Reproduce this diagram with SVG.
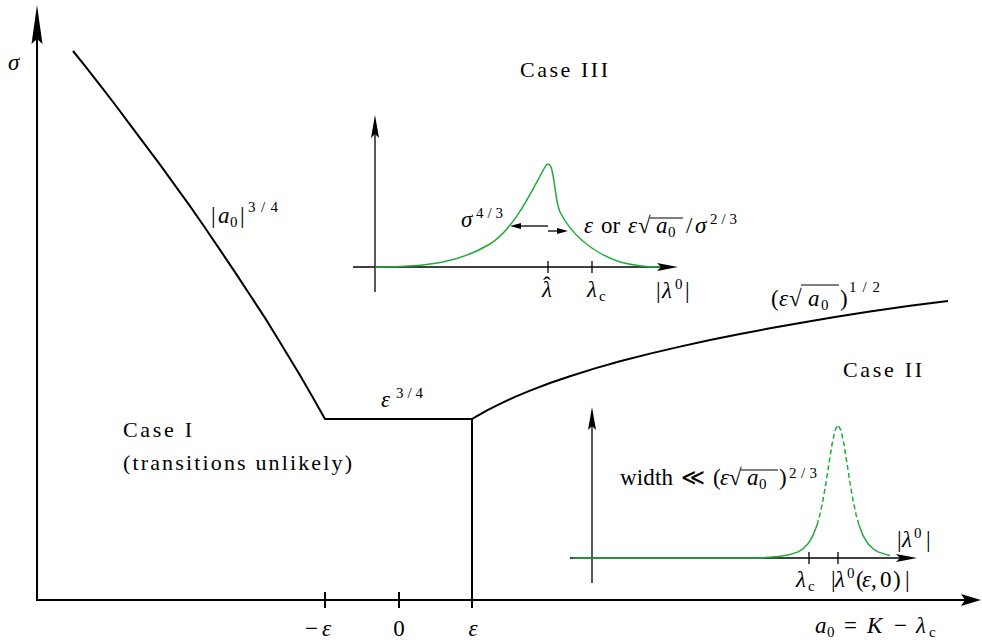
<svg xmlns="http://www.w3.org/2000/svg" width="982" height="640" viewBox="0 0 982 640">
<style>
.t{font-family:"Liberation Serif","DejaVu Serif",serif;font-size:22px;fill:#000}
.m{font-family:"Liberation Serif","DejaVu Serif",serif;font-size:23px;fill:#000}
.i{font-style:italic}
.s{font-size:15px;font-style:normal}
.ax{stroke:#000;stroke-width:2;fill:none}
.ax2{stroke:#000;stroke-width:1.3;fill:none}
.cv{stroke:#000;stroke-width:2;fill:none;stroke-linejoin:round}
.g{stroke:#22aa3a;stroke-width:1.5;fill:none;stroke-linejoin:round}
.gd{stroke:#22aa3a;stroke-width:1.5;fill:none;stroke-dasharray:5 3}
.ah{fill:#000}
.ov{stroke:#000;stroke-width:1.2}
</style>
<rect width="982" height="640" fill="#fff"/>

<g id="main-axes">
<line class="ax" x1="37" y1="601" x2="37" y2="36"/>
<path class="ah" d="M37,5 L42.5,44 L37,39 L31.5,44 Z"/>
<line class="ax" x1="36" y1="600" x2="966" y2="600"/>
<path class="ah" d="M981,600 L961,594 L965,600 L961,606 Z"/>
<line class="ax" x1="325" y1="592" x2="325" y2="608"/>
<line class="ax" x1="399" y1="592" x2="399" y2="608"/>
<line class="ax" x1="472" y1="592" x2="472" y2="608"/>
<text class="m i" x="8" y="70">σ</text>
<text class="m" y="636"><tspan x="305">−</tspan><tspan class="i" x="322">ε</tspan></text>
<text class="m" x="399" y="636" text-anchor="middle">0</text>
<text class="m i" x="473" y="636" text-anchor="middle">ε</text>
<text class="m" y="633"><tspan class="i" x="815">a</tspan><tspan class="s" x="827" y="637">0</tspan><tspan x="844" y="633">=</tspan><tspan class="i" x="867">K</tspan><tspan x="894">−</tspan><tspan class="i" x="916">λ</tspan><tspan class="s" x="929" y="637">c</tspan></text>
</g>

<g id="boundary-curve">
<polyline class="cv" points="73,51 85,65.9 100,85.2 115,104.5 130,124.6 145,144.6 160,164.7 175,185.4 190,206.2 205,227.7 220,249.9 235,272.1 250,295 265,317.9 280,342.2 290,358.7 300,375.2 312,395.9 325,419 472,419 476,416.6 480,414.3 488,409.9 500,403.8 515,396.9 530,390.6 550,383 570,376.2 595,368.4 620,361.3 650,353.6 680,346.6 710,340.1 740,334 770,328.3 800,323 835,317.1 870,311.6 910,305.7 948,301"/>
<line class="cv" x1="472" y1="419" x2="472" y2="600"/>
<text class="m" y="223"><tspan x="211">|</tspan><tspan class="i" x="218">a</tspan><tspan class="s" x="230" y="227">0</tspan><tspan x="240" y="223">|</tspan><tspan class="s" x="248" y="212" textLength="30">3/4</tspan></text>
<text class="m" y="407"><tspan class="i" x="381">ε</tspan><tspan class="s" x="396" y="398" textLength="27">3/4</tspan></text>
<text class="m" y="306"><tspan x="771">(</tspan><tspan class="i" x="779">ε</tspan><tspan x="789">√</tspan><tspan class="i" x="808">a</tspan><tspan class="s" x="821" y="310">0</tspan><tspan x="840" y="306">)</tspan><tspan class="s" x="849" y="292" textLength="31">1/2</tspan></text>
<line class="ov" x1="801" y1="285" x2="839" y2="285"/>
</g>

<g id="case1">
<text class="t" x="123" y="437" textLength="69">Case I</text>
<text class="t" x="123" y="470" textLength="229">(transitions unlikely)</text>
</g>

<g id="case3">
<text class="t" x="520" y="77" textLength="88">Case III</text>
<line class="ax2" x1="375" y1="292" x2="375" y2="132"/>
<path class="ah" d="M375,115 L379,138 L375,134 L371,138 Z"/>
<line class="ax2" x1="353" y1="267" x2="662" y2="267"/>
<path class="ah" d="M678,267 L657,263 L661,267 L657,271 Z"/>
<line class="ax2" x1="548" y1="261" x2="548" y2="273"/>
<line class="ax2" x1="592" y1="261" x2="592" y2="273"/>
<path class="g" d="M375,267 C430,267 460,262 490,244 C515,228 532,190 545,167 Q548,161 551,167 C555,178 555,200 560,212 C570,232 590,252 620,262 C635,266 645,267 660,267"/>
<line class="ax2" x1="548" y1="226" x2="518" y2="226"/>
<path class="ah" d="M510,226 L521,223 L521,229 Z"/>
<line class="ax2" x1="548" y1="231" x2="560" y2="231"/>
<path class="ah" d="M568,231 L557,228 L557,234 Z"/>
<text class="m" y="227"><tspan class="i" x="461">σ</tspan><tspan class="s" x="476" y="218" textLength="27">4/3</tspan></text>
<text class="m" y="233"><tspan class="i" x="584">ε</tspan><tspan x="601">or</tspan><tspan class="i" x="628">ε</tspan><tspan x="638">√</tspan><tspan class="i" x="656">a</tspan><tspan class="s" x="668" y="237">0</tspan><tspan x="686" y="233">/</tspan><tspan class="i" x="695">σ</tspan><tspan class="s" x="710" y="224" textLength="27">2/3</tspan></text>
<line class="ov" x1="650" y1="218" x2="683" y2="218"/>
<text class="m" y="297"><tspan class="i" x="542">λ</tspan><tspan x="543" y="293">ˆ</tspan></text>
<text class="m" y="297"><tspan class="i" x="587">λ</tspan><tspan class="s" x="599" y="301">c</tspan></text>
<text class="m" y="298"><tspan x="656">|</tspan><tspan class="i" x="662">λ</tspan><tspan class="s" x="675" y="289">0</tspan><tspan x="685" y="298">|</tspan></text>
</g>

<g id="case2">
<text class="t" x="843" y="377" textLength="79">Case II</text>
<line class="ax2" x1="592" y1="583" x2="592" y2="425"/>
<path class="ah" d="M592,407 L596,430 L592,426 L588,430 Z"/>
<line class="ax2" x1="570" y1="558" x2="902" y2="558"/>
<path class="ah" d="M917,558 L896,554 L900,558 L896,562 Z"/>
<line class="ax2" x1="809" y1="552" x2="809" y2="564"/>
<line class="ax2" x1="838" y1="552" x2="838" y2="564"/>
<polyline class="g" points="573,558 760,558 778,556.4 788,555.1 798,551.9 803,548.8 808,543.8 813,535.5 817,525.1"/>
<polyline class="gd" points="817,525.1 820,514.2 823,500.1 826,482.8 829,463.3 832,444.5 835,430.3 838,425 841,430.3 844,444.5 847,463.3 850,482.8 853,500.1 856,514.2 859,525.1"/>
<polyline class="g" points="859,525.1 863,535.5 868,543.8 873,548.8 878,551.9 888,555.1 890,555.4"/>
<text class="m" y="485"><tspan x="620" textLength="53">width</tspan><tspan x="681">≪</tspan><tspan x="713">(</tspan><tspan class="i" x="720">ε</tspan><tspan x="729">√</tspan><tspan class="i" x="747">a</tspan><tspan class="s" x="759" y="489">0</tspan><tspan x="779" y="485">)</tspan><tspan class="s" x="789" y="478" textLength="28">2/3</tspan></text>
<line class="ov" x1="741" y1="470" x2="778" y2="470"/>
<text class="m" y="547"><tspan x="897">|</tspan><tspan class="i" x="902">λ</tspan><tspan class="s" x="914" y="538">0</tspan><tspan x="926" y="547">|</tspan></text>
<text class="m" y="587"><tspan class="i" x="796">λ</tspan><tspan class="s" x="808" y="591">c</tspan></text>
<text class="m" y="587"><tspan x="831">|</tspan><tspan class="i" x="835">λ</tspan><tspan class="s" x="847" y="578">0</tspan><tspan x="856" y="587">(</tspan><tspan class="i" x="862">ε</tspan><tspan x="871">,</tspan><tspan x="880">0</tspan><tspan x="893">)</tspan><tspan x="905">|</tspan></text>
</g>
</svg>
